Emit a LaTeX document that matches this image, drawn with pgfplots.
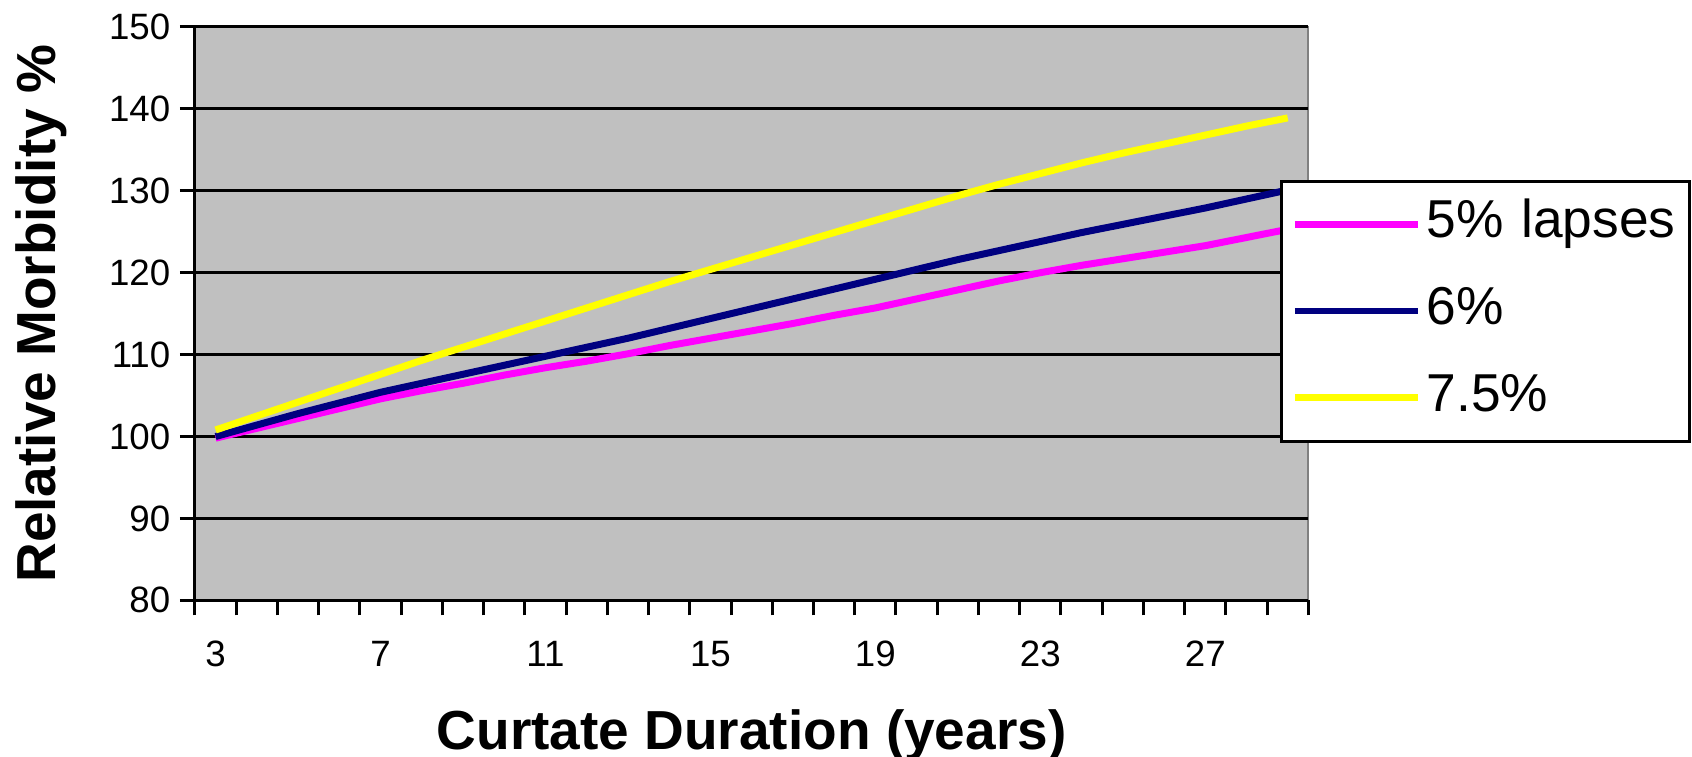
\documentclass[border=0pt]{standalone}
\usepackage{fontspec}
\setmainfont{Liberation Sans}
\usepackage{pgfplots}
\pgfplotsset{compat=1.18}
\definecolor{plotgray}{HTML}{C0C0C0}
\definecolor{myyellow}{HTML}{FFFF00}
\definecolor{mymagenta}{HTML}{FF00FF}
\definecolor{mynavy}{HTML}{000080}
\begin{document}
\begin{tikzpicture}
\path[use as bounding box, fill=white] (-58.5pt,-46.8pt) rectangle (449.1pt,180.1pt);
\begin{axis}[
  at={(0pt,0pt)}, anchor=south west,
  scale only axis, width=334pt, height=172pt,
  xmin=2.5, xmax=29.5, ymin=80, ymax=150,
  axis background/.style={fill=plotgray, draw=gray, line width=0.6pt},
  axis x line*=bottom, axis y line*=left,
  axis line style={black, line width=0.9pt, -},
  ytick={80,90,...,150},
  ymajorgrids, grid style={black, line width=0.9pt},
  xtick={2.5,3.5,...,29.5}, xticklabels={},
  extra x ticks={3,7,11,15,19,23,27},
  extra x tick labels={3,7,11,15,19,23,27},
  extra x tick style={major tick length=0pt, grid=none, xticklabel style={yshift=-8.6pt}},
  tick align=outside,
  major tick length=4.5pt,
  tick style={black, line width=0.9pt},
  /pgf/number format/assume math mode=true,
  tick label style={font=\fontsize{11}{13}\selectfont},
  yticklabel style={xshift=0.6pt},
  xlabel={\fontsize{16.5}{19}\selectfont\bfseries Curtate Duration (years)},
  ylabel={\fontsize{16.5}{19}\selectfont\bfseries Relative Morbidity \%},
  every axis x label/.style={at={(axis description cs:0.5,-0.2355)}, anchor=center},
  every axis y label/.style={at={(axis description cs:-0.138,0.5)}, anchor=center, rotate=90},
  legend style={at={(axis description cs:0.9746,0.734)}, anchor=north west,
    draw=black, line width=0.9pt, fill=white,
    font=\fontsize{16}{19}\selectfont,
    inner xsep=3pt, inner ysep=5.5pt, row sep=11pt, column sep=1.5pt,
    nodes={inner sep=0pt, text height=11.5pt, text depth=3.5pt, text width=76pt, align=left}},
  legend cell align=left,
  legend image code/.code={\draw[#1, line width=2pt] (0pt,0pt) -- (37pt,0pt);},
  every axis plot/.append style={line width=2.1pt},
]
\addplot[mymagenta] coordinates {
(3,99.8)(4,101.0)(5,102.2)(6,103.4)(7,104.6)(8,105.6)(9,106.5)(10,107.5)(11,108.4)(12,109.2)(13,110.1)(14,111.1)(15,112.0)(16,112.9)(17,113.8)(18,114.8)(19,115.7)(20,116.8)(21,117.9)(22,119.0)(23,120.0)(24,120.9)(25,121.7)(26,122.5)(27,123.3)(28,124.3)(29,125.3)};
\addlegendentry{5\% lapses}
\addplot[mynavy] coordinates {
(3,100.0)(4,101.4)(5,102.8)(6,104.1)(7,105.4)(8,106.5)(9,107.6)(10,108.7)(11,109.8)(12,110.9)(13,112.0)(14,113.2)(15,114.4)(16,115.6)(17,116.8)(18,118.0)(19,119.2)(20,120.4)(21,121.6)(22,122.7)(23,123.8)(24,124.9)(25,125.9)(26,126.9)(27,127.9)(28,129.0)(29,130.1)};
\addlegendentry{6\%}
\addplot[myyellow] coordinates {
(3,100.8)(4,102.5)(5,104.2)(6,105.9)(7,107.6)(8,109.3)(9,110.9)(10,112.5)(11,114.1)(12,115.7)(13,117.3)(14,118.9)(15,120.4)(16,121.9)(17,123.4)(18,124.9)(19,126.4)(20,127.9)(21,129.4)(22,130.8)(23,132.1)(24,133.4)(25,134.6)(26,135.7)(27,136.8)(28,137.9)(29,138.9)};
\addlegendentry{7.5\%}
\end{axis}
\end{tikzpicture}
\end{document}
